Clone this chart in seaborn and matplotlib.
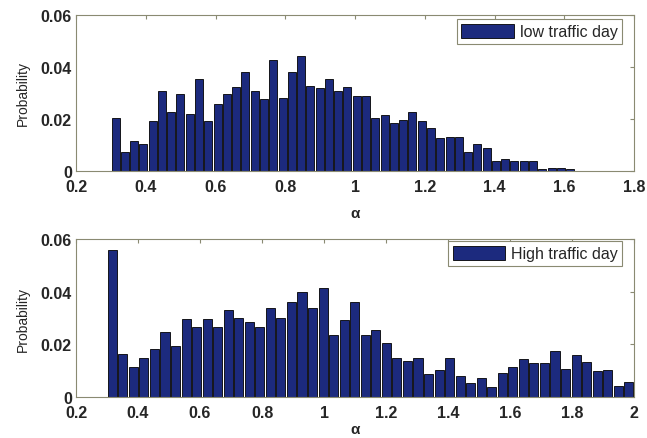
import numpy as np
import pandas as pd
import seaborn as sns
import matplotlib.pyplot as plt

# histogram bin ranges (50 bins each)
low_range = (0.30, 1.63)
high_range = (0.30, 2.00)
n_bins = 50

low_prob = [0.0203, 0.0075, 0.0114, 0.0104, 0.0193, 0.0306, 0.0228, 0.0295, 0.0220, 0.0352,
            0.0193, 0.0257, 0.0295, 0.0322, 0.0382, 0.0309, 0.0275, 0.0425, 0.0280, 0.0381,
            0.0441, 0.0325, 0.0318, 0.0352, 0.0309, 0.0321, 0.0290, 0.0290, 0.0205, 0.0215,
            0.0185, 0.0195, 0.0228, 0.0192, 0.0164, 0.0126, 0.0131, 0.0131, 0.0075, 0.0104,
            0.0087, 0.0039, 0.0045, 0.0039, 0.0039, 0.0039, 0.0008, 0.0013, 0.0010, 0.0008]

high_prob = [0.0557, 0.0165, 0.0116, 0.0149, 0.0181, 0.0247, 0.0194, 0.0298, 0.0265, 0.0296,
             0.0268, 0.0330, 0.0302, 0.0284, 0.0265, 0.0339, 0.0302, 0.0361, 0.0399, 0.0339,
             0.0414, 0.0235, 0.0294, 0.0360, 0.0236, 0.0256, 0.0207, 0.0150, 0.0137, 0.0150,
             0.0088, 0.0104, 0.0150, 0.0079, 0.0054, 0.0071, 0.0040, 0.0091, 0.0115, 0.0144,
             0.0128, 0.0128, 0.0174, 0.0107, 0.0161, 0.0135, 0.0098, 0.0103, 0.0043, 0.0058]

low_ticks = [0.2, 0.4, 0.6, 0.8, 1.0, 1.2, 1.4, 1.6, 1.8]
high_ticks = [0.2, 0.4, 0.6, 0.8, 1.0, 1.2, 1.4, 1.6, 1.8, 2.0]
y_ticks = [0, 0.02, 0.04, 0.06]

bar_color = '#1c2a7e'
frame_color = '#8a8a72'


def fmt(v):
    """ matlab-style tick label """
    return ('%g' % v)


def draw_panel(ax, prob, rng, xticks, label, anchor, xpad):
    edges = np.linspace(rng[0], rng[1], n_bins + 1)
    df = pd.DataFrame({'alpha': (edges[:-1] + edges[1:]) / 2, 'prob': prob})
    sns.histplot(data=df, x='alpha', weights='prob', bins=n_bins, binrange=rng,
                 stat='count', shrink=0.86, color=bar_color, edgecolor='black',
                 linewidth=0.6, alpha=1, label=label, ax=ax)
    ax.set_xlim(xticks[0], xticks[-1])
    ax.set_ylim(0, 0.06)
    ax.set_xticks(xticks)
    ax.set_xticklabels([fmt(t) for t in xticks], fontsize=11.5, fontweight='bold')
    ax.set_yticks(y_ticks)
    ax.set_yticklabels([fmt(t) for t in y_ticks], fontsize=11.5, fontweight='bold')
    ax.tick_params(direction='in', top=True, right=True, length=3,
                   color=frame_color)
    ax.tick_params(axis='x', pad=5.5)
    ax.tick_params(axis='y', pad=3)
    ax.set_ylabel('Probability', fontsize=10, labelpad=8)
    ax.set_xlabel('α', fontsize=11, fontweight='bold', labelpad=xpad)
    for s in ax.spines.values():
        s.set_color(frame_color)
        s.set_linewidth(0.8)
    leg = ax.legend(loc='upper right', bbox_to_anchor=anchor, fontsize=11.5,
                    handlelength=3.3, handleheight=1.0, handletextpad=0.35,
                    fancybox=False, borderpad=0.3, framealpha=1, borderaxespad=0)
    leg.get_frame().set_edgecolor(frame_color)
    leg.get_frame().set_linewidth(0.8)


sns.set_style('white')
plt.rcParams['font.family'] = ['Liberation Sans', 'DejaVu Sans']

fig = plt.figure(figsize=(6.47, 4.39), dpi=100)
ax1 = fig.add_axes([0.1175, 0.608, 0.8625, 0.356])
ax2 = fig.add_axes([0.1175, 0.093, 0.8625, 0.360])

draw_panel(ax1, low_prob, low_range, low_ticks, 'low traffic day', (0.979, 0.975), 9)
draw_panel(ax2, high_prob, high_range, high_ticks, 'High traffic day', (0.979, 0.988), 1.5)

fig.savefig('out.png', dpi=100)
